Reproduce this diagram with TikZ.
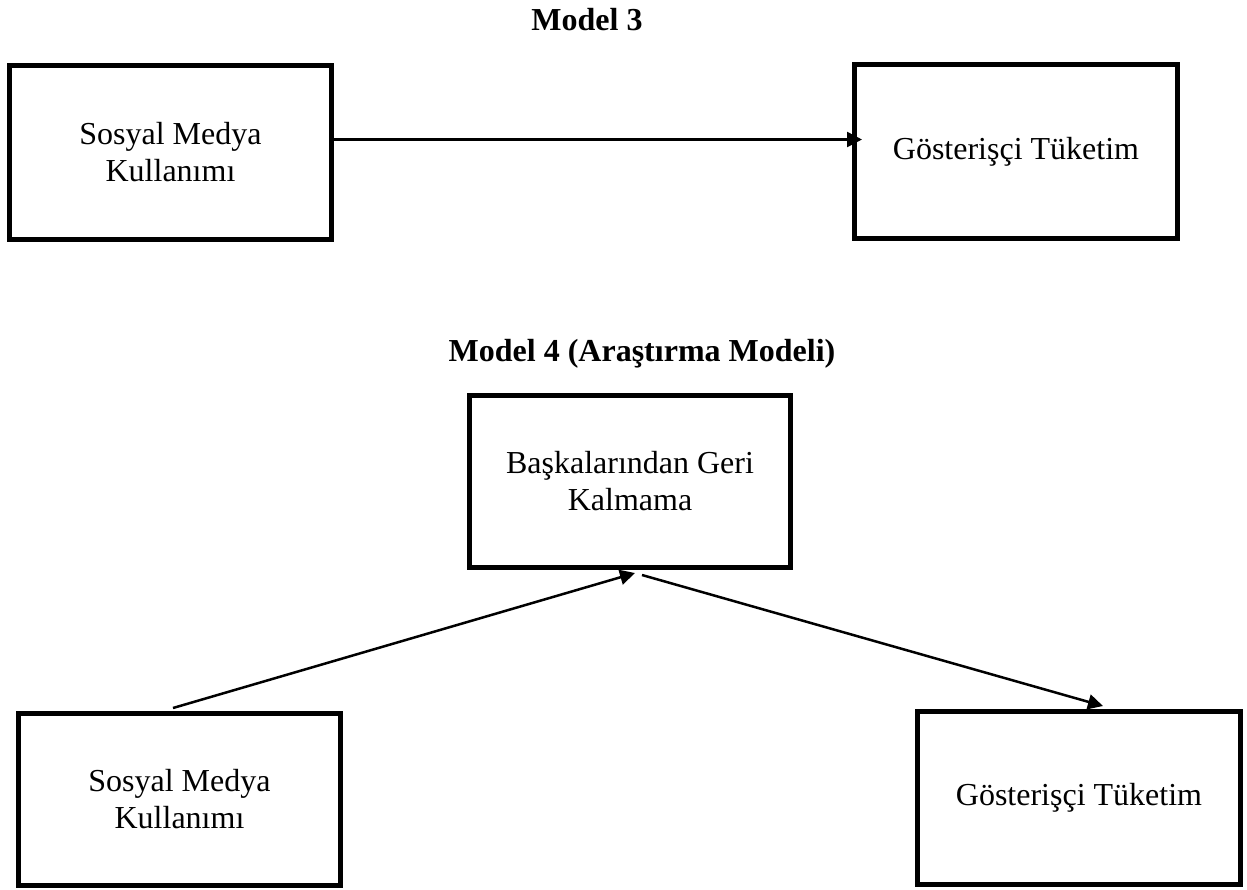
\documentclass[tikz,border=0pt]{standalone}
\usepackage{fontspec}
\setmainfont{Liberation Serif}
\usetikzlibrary{arrows.meta}
\begin{document}
\begin{tikzpicture}[x=1pt,y=-1pt,
  box/.style={draw, line width=5pt, align=center, inner sep=0pt,
    font=\fontsize{32}{37}\selectfont},
  ttl/.style={anchor=base, inner sep=0pt, font=\fontsize{32}{37}\selectfont\bfseries},
  link/.style={line width=2.5pt, -{Triangle[length=15pt,width=15pt]}}]
\useasboundingbox (0,0) rectangle (1247,889);

% Model 3
\node[ttl] (t3) at (587,30) {Model 3};
\node[box, minimum width=322pt, minimum height=174pt] (smk1) at (170.5,152.5)
  {Sosyal Medya\\Kullanımı};
\node[box, minimum width=323pt, minimum height=174pt] (gt1) at (1016,151.5)
  {Gösterişçi Tüketim};
\draw[link, shorten >=-10pt] ([yshift=13pt]smk1.east) -- ([yshift=12pt]gt1.west);

% Model 4
\node[ttl] (t4) at (642,361) {Model 4 (Araştırma Modeli)};
\node[box, minimum width=321pt, minimum height=172pt] (bgk) at (630,481.5)
  {Başkalarından Geri\\Kalmama};
\node[box, minimum width=322pt, minimum height=172pt] (smk2) at (179.5,799.5)
  {Sosyal Medya\\Kullanımı};
\node[box, minimum width=323pt, minimum height=173pt] (gt2) at (1079,798)
  {Gösterişçi Tüketim};
\draw[link] ([xshift=-6.5pt,yshift=3pt]smk2.north) -- ([xshift=5pt,yshift=-3pt]bgk.south);
\draw[link] ([xshift=12pt,yshift=-5pt]bgk.south) -- ([xshift=24pt,yshift=3pt]gt2.north);
\end{tikzpicture}
\end{document}
